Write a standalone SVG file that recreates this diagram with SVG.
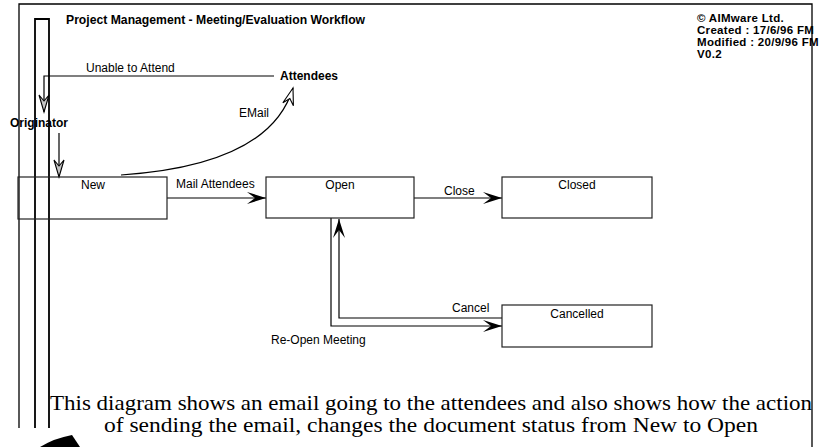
<svg xmlns="http://www.w3.org/2000/svg" width="820" height="447" viewBox="0 0 820 447">
  <style>
    .sans { font-family: "Liberation Sans", Arial, sans-serif; fill: #000; }
    .lbl { font-size: 12px; }
    .bold { font-weight: bold; }
    .meta { font-size: 11.5px; letter-spacing: 0.3px; }
    .state { fill: #fff; stroke: #222; stroke-width: 1.2; }
    .conn { fill: none; stroke: #000; stroke-width: 1.2; }
    .frame { fill: none; stroke: #000; }
    .note { font-family: "Liberation Serif", "Times New Roman", serif; font-size: 21px; fill: #000; }
  </style>
  <defs>
    <marker id="arrowSolid" markerUnits="userSpaceOnUse" markerWidth="24" markerHeight="16" viewBox="-21 -8 22 16" refX="0" refY="0" orient="auto" overflow="visible">
      <path d="M0,0 L-19,-6 L-11,0 L-19,6 Z" fill="#000"/>
    </marker>
    <marker id="arrowHollow" markerUnits="userSpaceOnUse" markerWidth="24" markerHeight="16" viewBox="-21 -8 22 16" refX="0" refY="0" orient="auto" overflow="visible">
      <path d="M0,0 L-17,-5.5 L-11,0 L-17,5.5 Z" fill="#fff" stroke="#000" stroke-width="1.1" stroke-linejoin="miter"/>
    </marker>
    <marker id="arrowGrey" markerUnits="userSpaceOnUse" markerWidth="24" markerHeight="16" viewBox="-21 -8 22 16" refX="0" refY="0" orient="auto" overflow="visible">
      <path d="M0,0 L-17,-5 L-11,0 L-17,5 Z" fill="#c4c4c4" stroke="#000" stroke-width="1.1" stroke-linejoin="miter"/>
    </marker>
  </defs>

  <rect width="820" height="447" fill="#fff"/>

  <!-- page frame and originator lane -->
  <g id="frame">
    <path class="frame" d="M19,428 V4 H812 V447" stroke-width="1.3"/>
    <path class="frame" d="M35,428 V19 H49 V428" stroke-width="1.8"/>
    <path d="M40,447 Q55,438 72,435 L80,447 Z" fill="#000"/>
  </g>

  <!-- header -->
  <g id="header">
    <text class="sans bold" x="66" y="24" font-size="12.2">Project Management - Meeting/Evaluation Workflow</text>
    <text class="sans bold meta" x="697" y="22">© AIMware Ltd.</text>
    <text class="sans bold meta" x="697" y="34">Created : 17/6/96 FM</text>
    <text class="sans bold meta" x="697" y="46">Modified : 20/9/96 FM</text>
    <text class="sans bold meta" x="697" y="58">V0.2</text>
  </g>

  <!-- connectors -->
  <g id="connectors">
    <path class="conn" d="M274,76 H44 V112" marker-end="url(#arrowGrey)"/>
    <path class="conn" d="M59,133 V177" marker-end="url(#arrowGrey)"/>
    <path class="conn" d="M121,175 Q270,165 293,88" marker-end="url(#arrowHollow)"/>
    <path class="conn" d="M167,198 H266" marker-end="url(#arrowSolid)"/>
    <path class="conn" d="M414,198 H502" marker-end="url(#arrowSolid)"/>
    <path class="conn" d="M331,218 V326 H502" marker-end="url(#arrowSolid)"/>
    <path class="conn" d="M502,318 H339 V219" marker-end="url(#arrowSolid)"/>

    <text class="sans lbl" x="86" y="72">Unable to Attend</text>
    <text class="sans lbl" x="239" y="117">EMail</text>
    <text class="sans lbl" x="176" y="188">Mail Attendees</text>
    <text class="sans lbl" x="444" y="195">Close</text>
    <text class="sans lbl" x="452" y="312">Cancel</text>
    <text class="sans lbl" x="271" y="344">Re-Open Meeting</text>
  </g>

  <!-- actors -->
  <g id="attendees">
    <text class="sans lbl bold" x="280" y="80">Attendees</text>
  </g>
  <g id="originator">
    <text class="sans lbl bold" x="10" y="127">Originator</text>
  </g>

  <!-- document states -->
  <g id="state-new">
    <rect class="state" x="18" y="177" width="149" height="42" fill-opacity="0"/>
    <text class="sans lbl" x="93" y="189" text-anchor="middle">New</text>
  </g>
  <g id="state-open">
    <rect class="state" x="266" y="177" width="148" height="41"/>
    <text class="sans lbl" x="340" y="189" text-anchor="middle">Open</text>
  </g>
  <g id="state-closed">
    <rect class="state" x="502" y="177" width="150" height="41"/>
    <text class="sans lbl" x="577" y="189" text-anchor="middle">Closed</text>
  </g>
  <g id="state-cancelled">
    <rect class="state" x="502" y="305" width="150" height="42"/>
    <text class="sans lbl" x="577" y="318" text-anchor="middle">Cancelled</text>
  </g>

  <!-- description -->
  <g id="description">
    <text class="note" x="50" y="410" textLength="762" lengthAdjust="spacingAndGlyphs">This diagram shows an email going to the attendees and also shows how the action</text>
    <text class="note" x="104" y="432" textLength="654" lengthAdjust="spacingAndGlyphs">of sending the email, changes the document status from New to Open</text>
  </g>
</svg>
